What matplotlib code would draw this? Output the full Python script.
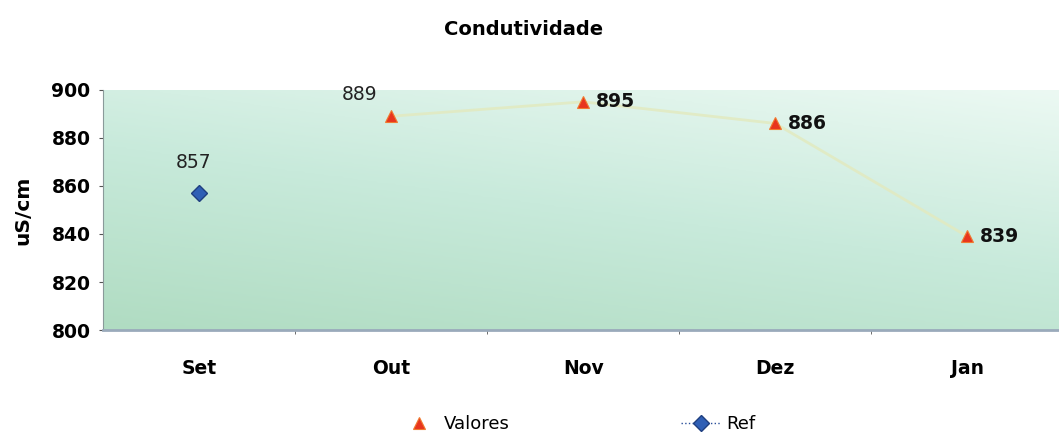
import matplotlib.pyplot as plt
import numpy as np
from matplotlib.colors import LinearSegmentedColormap

plt.rcParams['font.family'] = ['DejaVu Sans']

meses = ['Set', 'Out', 'Nov', 'Dez', 'Jan']
valores_x = [1, 2, 3, 4]
valores = [889, 895, 886, 839]
ref_x = [0]
ref = [857]

fig = plt.figure(figsize=(10.59, 4.36), dpi=100)
ax = fig.add_axes([0.0973, 0.243, 0.9067, 0.551])

# gradient background, darker bottom-left to pale top-right
cmap = LinearSegmentedColormap.from_list('bg', ['#b0dcc2', '#c8eadb', '#ecf9f3'])
gx, gy = np.meshgrid(np.linspace(0, 1, 200), np.linspace(0, 1, 100))
grad = 0.35 * gx + 0.65 * gy
ax.imshow(grad, extent=[0, 1, 0, 1], transform=ax.transAxes, origin='lower',
          cmap=cmap, aspect='auto', zorder=0)

ax.plot(valores_x, valores, color='#e2eac0', lw=2, alpha=0.85, zorder=2)
ax.plot(valores_x, valores, ls='none', marker='^', ms=9, color='#e8351e',
        markeredgecolor='#f07a30', markeredgewidth=0.8, zorder=3, label='Valores')
ax.plot(ref_x, ref, color='#2a4f9a', ls=':', lw=1, marker='D', ms=8,
        markerfacecolor='#2f5fb5', markeredgecolor='#1f3f80', zorder=3, label='Ref')

# data labels
ax.annotate(str(ref[0]), (ref_x[0], ref[0]), xytext=(-4, 15), textcoords='offset points',
            ha='center', va='bottom', fontsize=13.5, color='#222222')
ax.annotate(str(valores[0]), (valores_x[0], valores[0]), xytext=(-23, 9), textcoords='offset points',
            ha='center', va='bottom', fontsize=13.5, color='#222222')
for x, v in zip(valores_x[1:], valores[1:]):
    ax.annotate(str(v), (x, v), xytext=(9, 0), textcoords='offset points',
                ha='left', va='center', fontsize=13.5, fontweight='bold', color='#111111')

ax.set_xlim(-0.5, 4.5)
ax.set_ylim(800, 900)
ax.set_yticks(range(800, 901, 20))
ax.set_xticks(range(len(meses)))
ax.set_xticklabels(meses)
ax.set_xticks(np.arange(0.5, 4.5, 1), minor=True)
ax.tick_params(axis='x', which='major', length=0, pad=21, labelsize=13.5)
ax.tick_params(axis='x', which='minor', length=3, direction='out', color='#555555')
ax.tick_params(axis='y', length=3, labelsize=13.5, pad=6, color='#555555')
for lab in ax.get_xticklabels() + ax.get_yticklabels():
    lab.set_fontweight('bold')

for side in ['top', 'right']:
    ax.spines[side].set_visible(False)
ax.spines['left'].set_color('#8a9a9a')
ax.spines['bottom'].set_color('#9aaabb')
ax.spines['bottom'].set_linewidth(2)

ax.set_ylabel('uS/cm', fontsize=14.5, fontweight='bold', labelpad=14)
fig.suptitle('Condutividade', x=0.494, y=0.955, fontsize=14, fontweight='bold')

fig.legend(loc='lower center', bbox_to_anchor=(0.545, -0.03), ncol=2, frameon=False,
           fontsize=13, columnspacing=9.5, handlelength=2.2, handletextpad=0.3)

fig.savefig('out.png', dpi=100)
